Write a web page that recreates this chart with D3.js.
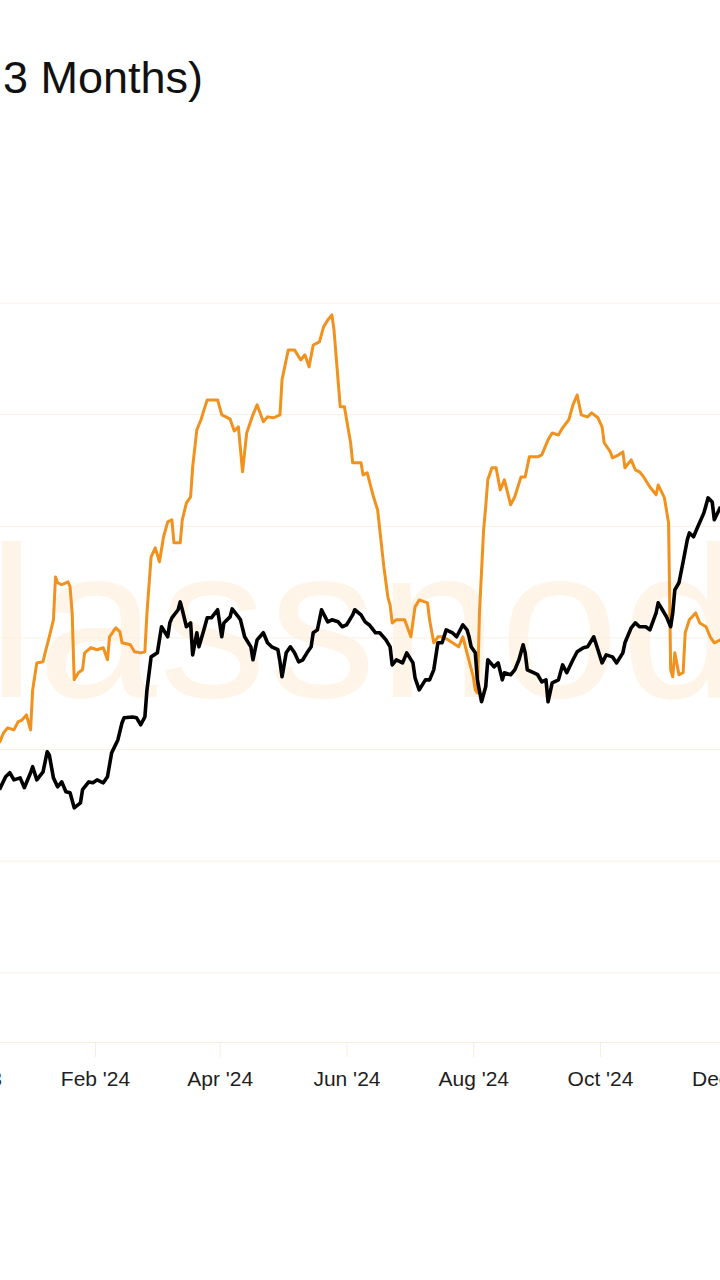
<!DOCTYPE html>
<html>
<head>
<meta charset="utf-8">
<script src="https://cdn.jsdelivr.net/npm/d3@7"></script>
<style>
  html, body { margin: 0; padding: 0; background: #ffffff; }
  svg { display: block; }
</style>
</head>
<body>
<svg id="chart" width="720" height="1280"></svg>
<script>
// ---- Data ----
const titleText = "3 Months)";
const watermarkText = "glassnode";
const xTickDates = ["2023-12-01","2024-02-01","2024-04-01","2024-06-01","2024-08-01","2024-10-01","2024-12-01"];
const yGridValues = [5, 10, 15, 20, 25, 30, 35];

const seriesOrange = [
["2023-12-17",15.30],["2023-12-19",15.75],["2023-12-21",15.97],["2023-12-24",15.88],["2023-12-26",16.24],
["2023-12-28",16.33],["2023-12-30",16.55],["2024-01-01",15.88],["2024-01-02",17.67],["2024-01-04",18.88],
["2024-01-07",18.93],["2024-01-08",19.33],["2024-01-10",20.05],["2024-01-12",20.81],["2024-01-13",22.73],
["2024-01-14",22.47],["2024-01-16",22.38],["2024-01-19",22.51],["2024-01-20",22.29],["2024-01-21",21.12],
["2024-01-22",18.12],["2024-01-24",18.44],["2024-01-26",18.57],["2024-01-27",19.33],["2024-01-30",19.56],
["2024-02-02",19.47],["2024-02-05",19.56],["2024-02-07",19.02],["2024-02-08",20.05],["2024-02-11",20.45],
["2024-02-13",20.27],["2024-02-14",19.78],["2024-02-18",19.69],["2024-02-20",19.38],["2024-02-23",19.33],
["2024-02-25",19.38],["2024-02-26",21.12],["2024-02-28",23.63],["2024-03-01",24.03],["2024-03-03",23.41],
["2024-03-05",24.53],["2024-03-07",25.20],["2024-03-09",25.29],["2024-03-10",24.26],["2024-03-13",24.26],
["2024-03-14",25.29],["2024-03-16",26.05],["2024-03-18",26.32],["2024-03-19",27.66],["2024-03-21",29.32],
["2024-03-23",29.77],["2024-03-24",30.08],["2024-03-26",30.66],["2024-03-31",30.66],["2024-04-02",29.99],
["2024-04-04",29.90],["2024-04-06",29.80],["2024-04-08",29.27],["2024-04-10",29.45],["2024-04-12",27.44],
["2024-04-14",29.18],["2024-04-17",29.99],["2024-04-19",30.44],["2024-04-22",29.68],["2024-04-24",29.90],
["2024-04-27",29.86],["2024-04-30",29.99],["2024-05-01",31.56],["2024-05-04",32.90],["2024-05-07",32.90],
["2024-05-10",32.45],["2024-05-12",32.68],["2024-05-14",32.14],["2024-05-16",33.12],["2024-05-19",33.26],
["2024-05-21",33.93],["2024-05-23",34.24],["2024-05-25",34.47],["2024-05-26",33.80],["2024-05-29",30.35],
["2024-05-31",30.35],["2024-06-03",28.74],["2024-06-04",27.84],["2024-06-08",27.84],["2024-06-09",27.30],
["2024-06-11",27.39],["2024-06-14",26.32],["2024-06-16",25.73],["2024-06-19",23.18],["2024-06-21",21.79],
["2024-06-22",21.48],["2024-06-23",20.67],["2024-06-25",20.81],["2024-06-29",20.81],["2024-07-02",20.05],
["2024-07-04",21.39],["2024-07-06",21.70],["2024-07-10",21.57],["2024-07-11",20.81],["2024-07-13",19.78],
["2024-07-15",20.05],["2024-07-17",20.05],["2024-07-20",19.91],["2024-07-22",19.78],["2024-07-25",19.60],
["2024-07-27",20.05],["2024-07-29",19.33],["2024-08-01",18.26],["2024-08-02",17.67],["2024-08-03",17.54],
["2024-08-04",21.12],["2024-08-06",24.84],["2024-08-07",25.87],["2024-08-08",27.08],["2024-08-10",27.62],
["2024-08-12",27.62],["2024-08-14",26.63],["2024-08-16",27.08],["2024-08-19",25.96],["2024-08-21",26.32],
["2024-08-24",27.21],["2024-08-26",27.21],["2024-08-28",28.11],["2024-09-01",28.11],["2024-09-03",28.20],
["2024-09-06",28.87],["2024-09-08",29.18],["2024-09-11",29.09],["2024-09-13",29.41],["2024-09-16",29.77],
["2024-09-18",30.44],["2024-09-20",30.88],["2024-09-22",29.99],["2024-09-25",29.90],["2024-09-27",30.08],
["2024-09-30",29.86],["2024-10-02",29.45],["2024-10-03",28.74],["2024-10-06",28.33],["2024-10-07",28.06],
["2024-10-10",28.20],["2024-10-12",28.33],["2024-10-13",27.62],["2024-10-16",27.97],["2024-10-18",27.53],
["2024-10-20",27.44],["2024-10-22",27.21],["2024-10-25",26.76],["2024-10-28",26.41],["2024-10-29",26.85],
["2024-11-01",26.27],["2024-11-03",25.15],["2024-11-04",18.57],["2024-11-05",18.26],["2024-11-06",19.33],
["2024-11-08",18.35],["2024-11-10",18.44],["2024-11-11",20.23],["2024-11-13",20.81],["2024-11-16",21.12],
["2024-11-18",20.67],["2024-11-21",20.50],["2024-11-23",20.05],["2024-11-25",19.78],["2024-11-28",19.91]
];

const seriesBlack = [
["2023-12-17",13.20],["2023-12-20",13.78],["2023-12-22",13.96],["2023-12-24",13.64],["2023-12-27",13.73],
["2023-12-29",13.29],["2024-01-01",13.96],["2024-01-02",14.23],["2024-01-04",13.64],["2024-01-07",14.00],
["2024-01-09",14.90],["2024-01-10",14.76],["2024-01-12",13.73],["2024-01-14",13.33],["2024-01-16",13.55],
["2024-01-18",13.11],["2024-01-20",13.06],["2024-01-22",12.39],["2024-01-25",12.61],["2024-01-26",13.20],
["2024-01-29",13.55],["2024-01-31",13.51],["2024-02-02",13.64],["2024-02-05",13.51],["2024-02-07",13.78],
["2024-02-09",14.85],["2024-02-12",15.43],["2024-02-14",16.20],["2024-02-15",16.42],["2024-02-19",16.46],
["2024-02-21",16.42],["2024-02-23",16.11],["2024-02-25",16.46],["2024-02-26",17.67],["2024-02-28",19.15],
["2024-03-02",19.33],["2024-03-04",20.50],["2024-03-07",20.05],["2024-03-08",20.67],["2024-03-09",20.90],
["2024-03-12",21.26],["2024-03-13",21.61],["2024-03-14",21.26],["2024-03-16",20.50],["2024-03-18",20.67],
["2024-03-19",19.24],["2024-03-21",20.23],["2024-03-22",19.60],["2024-03-24",20.23],["2024-03-26",20.90],
["2024-03-28",20.90],["2024-03-31",21.26],["2024-04-02",20.05],["2024-04-03",20.67],["2024-04-06",20.94],
["2024-04-07",21.30],["2024-04-10",20.94],["2024-04-11",20.81],["2024-04-13",20.05],["2024-04-16",19.60],
["2024-04-17",19.02],["2024-04-19",19.91],["2024-04-22",20.23],["2024-04-24",19.78],["2024-04-26",19.60],
["2024-04-29",19.47],["2024-04-30",18.93],["2024-05-01",18.26],["2024-05-03",19.33],["2024-05-05",19.60],
["2024-05-07",19.33],["2024-05-09",18.93],["2024-05-11",19.02],["2024-05-13",19.33],["2024-05-15",19.60],
["2024-05-16",20.23],["2024-05-18",20.36],["2024-05-20",21.26],["2024-05-23",20.72],["2024-05-25",20.81],
["2024-05-28",20.72],["2024-05-30",20.50],["2024-06-01",20.58],["2024-06-04",21.03],["2024-06-05",21.26],
["2024-06-08",21.03],["2024-06-10",20.72],["2024-06-12",20.58],["2024-06-15",20.23],["2024-06-17",20.23],
["2024-06-20",19.91],["2024-06-22",19.60],["2024-06-23",18.79],["2024-06-25",19.02],["2024-06-28",18.88],
["2024-06-30",19.33],["2024-07-03",18.88],["2024-07-04",18.21],["2024-07-06",17.67],["2024-07-09",18.12],
["2024-07-11",18.12],["2024-07-13",18.57],["2024-07-15",19.78],["2024-07-17",19.78],["2024-07-19",20.36],
["2024-07-22",20.23],["2024-07-24",20.05],["2024-07-27",20.58],["2024-07-29",20.36],["2024-07-30",20.05],
["2024-07-31",19.60],["2024-08-02",19.33],["2024-08-03",18.12],["2024-08-05",17.14],["2024-08-07",17.81],
["2024-08-08",19.02],["2024-08-11",18.70],["2024-08-13",18.88],["2024-08-15",18.12],["2024-08-16",18.44],
["2024-08-19",18.35],["2024-08-21",18.57],["2024-08-23",19.02],["2024-08-25",19.69],["2024-08-26",19.33],
["2024-08-27",18.57],["2024-08-30",18.44],["2024-09-01",18.35],["2024-09-03",18.03],["2024-09-05",18.12],
["2024-09-06",17.14],["2024-09-08",17.99],["2024-09-11",18.12],["2024-09-13",18.79],["2024-09-15",18.44],
["2024-09-18",19.02],["2024-09-20",19.38],["2024-09-23",19.56],["2024-09-25",19.60],["2024-09-28",20.05],
["2024-09-30",19.47],["2024-10-02",18.88],["2024-10-04",19.24],["2024-10-07",19.15],["2024-10-09",18.88],
["2024-10-12",19.33],["2024-10-13",19.78],["2024-10-16",20.45],["2024-10-18",20.67],["2024-10-20",20.50],
["2024-10-23",20.50],["2024-10-25",20.36],["2024-10-28",21.12],["2024-10-29",21.57],["2024-10-31",21.26],
["2024-11-02",20.94],["2024-11-04",20.50],["2024-11-05",21.12],["2024-11-06",22.15],["2024-11-08",22.47],
["2024-11-10",23.41],["2024-11-12",24.39],["2024-11-13",24.70],["2024-11-15",24.53],["2024-11-17",24.97],
["2024-11-20",25.60],["2024-11-22",26.27],["2024-11-24",26.09],["2024-11-25",25.29],["2024-11-28",25.87]
];

// ---- Drawing ----
const parse = d3.utcParse("%Y-%m-%d");
const svg = d3.select("#chart");
const W = 720, H = 1280;
const FONT = "'Liberation Sans', Arial, Helvetica, sans-serif";

svg.append("rect").attr("width", W).attr("height", H).attr("fill", "#ffffff");

// Scales (the plot is a crop of a wider chart: range extends past the frame)
const x = d3.scaleUtc()
  .domain([parse("2024-02-01"), parse("2024-10-01")])
  .range([95, 600]);
const y = d3.scaleLinear()
  .domain([1.9, 35])
  .range([1042, 303]);

// Title (cropped)
svg.append("text")
  .attr("x", 3).attr("y", 93)
  .attr("font-family", FONT)
  .attr("font-size", 45)
  .attr("fill", "#111")
  .text(titleText);

// Watermark
svg.append("text")
  .attr("x", -134).attr("y", 697)
  .attr("font-family", FONT)
  .attr("font-size", 215)
  .attr("letter-spacing", 2)
  .attr("fill", "#f7931a")
  .attr("fill-opacity", 0.1)
  .text(watermarkText);

// Grid lines
svg.append("g")
  .selectAll("line")
  .data(yGridValues)
  .join("line")
  .attr("x1", 0).attr("x2", W)
  .attr("y1", d => y(d)).attr("y2", d => y(d))
  .attr("stroke", "#f8f1e4")
  .attr("stroke-width", 1);

// X axis
const xAxis = d3.axisBottom(x)
  .tickValues(xTickDates.map(parse))
  .tickFormat(d3.utcFormat("%b '%y"))
  .tickSize(15)
  .tickPadding(14);

const gx = svg.append("g")
  .attr("transform", `translate(0,${y(1.9)})`)
  .call(xAxis);
gx.select(".domain").attr("stroke", "#f6eee0").attr("d", `M-100,0.5H${W + 100}`);
gx.selectAll(".tick line").attr("stroke", "#f6eee0");
gx.selectAll(".tick text")
  .attr("font-family", FONT)
  .attr("font-size", 21)
  .attr("fill", "#1e1e1e");

// Lines
const line = d3.line()
  .x(d => x(parse(d[0])))
  .y(d => y(d[1]))
  .curve(d3.curveLinear);

svg.append("path")
  .datum(seriesOrange)
  .attr("fill", "none")
  .attr("stroke", "#f0921d")
  .attr("stroke-width", 3)
  .attr("stroke-linejoin", "round")
  .attr("d", line);

svg.append("path")
  .datum(seriesBlack)
  .attr("fill", "none")
  .attr("stroke", "#000")
  .attr("stroke-width", 3.6)
  .attr("stroke-linejoin", "round")
  .attr("d", line);
</script>
</body>
</html>
